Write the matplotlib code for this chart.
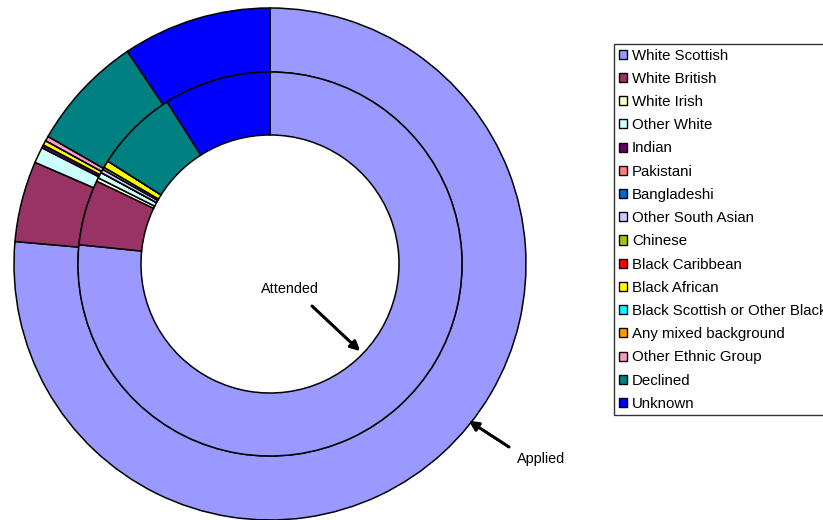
import matplotlib.pyplot as plt
from matplotlib.patches import Patch

plt.rcParams['font.family'] = ['Liberation Sans', 'DejaVu Sans']

groups = [
    "White Scottish", "White British", "White Irish", "Other White",
    "Indian", "Pakistani", "Bangladeshi", "Other South Asian", "Chinese",
    "Black Caribbean", "Black African", "Black Scottish or Other Black",
    "Any mixed background", "Other Ethnic Group", "Declined", "Unknown",
]
colours = [
    "#9999FF", "#993366", "#FFFFCC", "#CCFFFF",
    "#660066", "#FF8080", "#0066CC", "#CCCCFF", "#99CC00",
    "#FF0000", "#FFFF00", "#00FFFF",
    "#FF9900", "#FF99CC", "#008080", "#0000FF",
]
# percentages
applied = [76.4, 5.1, 0.0, 1.0, 0.2, 0.0, 0.0, 0.0, 0.0,
           0.0, 0.3, 0.0, 0.0, 0.3, 7.3, 9.4]
attended = [76.6, 5.5, 0.3, 0.5, 0.0, 0.0, 0.0, 0.3, 0.2,
            0.0, 0.6, 0.0, 0.0, 0.0, 7.0, 9.0]

fig = plt.figure(figsize=(8.23, 5.20), dpi=100)
ax = fig.add_axes([14 / 823, 0, 512 / 823, 512 / 520])
ax.set_aspect('equal')
ax.axis('off')

wedge = dict(edgecolor='black', linewidth=1.1)
ax.pie(applied, colors=colours, radius=1.0, startangle=90, counterclock=False,
       wedgeprops=dict(width=0.25, **wedge))
ax.pie(attended, colors=colours, radius=0.75, startangle=90, counterclock=False,
       wedgeprops=dict(width=0.246, **wedge))
ax.set_xlim(-1, 1)
ax.set_ylim(-1, 1)

arrow = dict(arrowstyle='-|>', color='black', lw=2, mutation_scale=14,
             shrinkA=0, shrinkB=0)
fig.text(290 / 823, 1 - 289 / 520, "Attended", fontsize=10.4,
         ha='center', va='center')
fig.add_artist(plt.annotate("", xy=(360 / 823, 1 - 351 / 520),
                            xytext=(312 / 823, 1 - 306 / 520),
                            xycoords='figure fraction', arrowprops=arrow))
fig.text(541 / 823, 1 - 459 / 520, "Applied", fontsize=10.4,
         ha='center', va='center')
fig.add_artist(plt.annotate("", xy=(469 / 823, 1 - 421 / 520),
                            xytext=(509 / 823, 1 - 447 / 520),
                            xycoords='figure fraction', arrowprops=arrow))

# legend runs past the right edge, as in the original
handles = [Patch(facecolor=c, edgecolor='black', linewidth=1) for c in colours]
leg = fig.legend(handles, groups, loc='upper left',
                 bbox_to_anchor=(614 / 823, 1 - 44 / 520),
                 fontsize=10.8, frameon=True, fancybox=False,
                 handlelength=0.55, handleheight=0.55, handletextpad=0.35,
                 labelspacing=0.615, borderpad=0.3, borderaxespad=0)
leg.get_frame().set_edgecolor('black')
leg.get_frame().set_linewidth(1)

fig.savefig("out.png", dpi=100)
